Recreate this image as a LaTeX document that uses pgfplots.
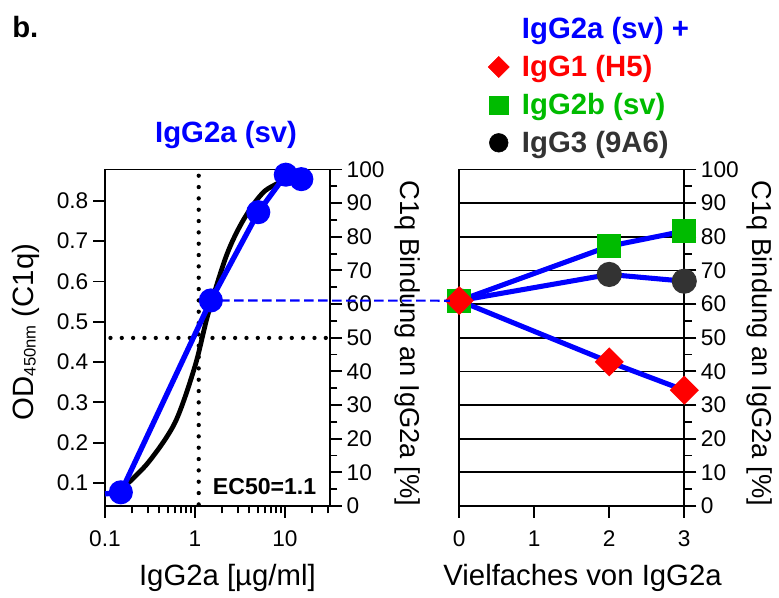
\documentclass[border=0pt]{standalone}
\usepackage{pgfplots}
\pgfplotsset{compat=1.18}
\usepackage{fontspec}
\setmainfont{Liberation Sans}
\setsansfont{Liberation Sans}

\definecolor{ggreen}{RGB}{0,187,0}
\definecolor{gdark}{RGB}{51,51,51}

\pgfplotsset{
  panel/.style={
    scale only axis, width=168.75pt, height=252.4pt,
    axis line style={line width=1.4pt},
    every tick/.style={line width=1.4pt, black},
    major tick length=9pt, minor tick length=5.5pt,
    tick align=outside,
    tick label style={font=\fontsize{17}{20}\selectfont},
    xticklabel style={yshift=-6pt},
    /pgf/number format/assume math mode=true,
    clip=false,
  },
  rlabel/.style={ylabel style={font=\fontsize{20.5}{24}\selectfont,
      at={(axis description cs:#1,0.483)}, anchor=center, rotate=180}},
  dotline/.style={black, line width=3.2pt, line cap=round, dash pattern=on 0pt off 8.5pt},
}

\begin{document}
\begin{tikzpicture}
\useasboundingbox (-78.75pt,-69pt) rectangle (505.5pt,379.5pt);

% left panel: dose response
\begin{axis}[panel,
  at={(0,0)}, anchor=south west,
  xmode=log, xmin=0.1, xmax=31.62,
  ymin=0.043, ymax=0.878,
  xtick={0.1,1,10}, xticklabels={0.1,1,10},
  minor xtick={0.2,0.3,0.4,0.5,0.6,0.7,0.8,0.9,2,3,4,5,6,7,8,9,20,30},
  ytick={0.1,0.2,0.3,0.4,0.5,0.6,0.7,0.8},
  yticklabel style={/pgf/number format/.cd, fixed, fixed zerofill, precision=1},
  xtick pos=bottom, ytick pos=left,
  xlabel={IgG2a [µg/ml]},
  xlabel style={font=\fontsize{22}{26}\selectfont, at={(axis description cs:0.544,0)}, anchor=base, yshift=-59.6pt},
  ylabel={OD{\fontsize{12.5}{14}\selectfont\raisebox{-1.5pt}{450nm}} (C1q)},
  ylabel style={font=\fontsize{22}{26}\selectfont, at={(axis description cs:-0.351,0.517)}, anchor=center},
  title={IgG2a (sv)},
  title style={font=\bfseries\fontsize{22}{26}\selectfont, text=blue, at={(axis description cs:0.538,1)}, anchor=base, yshift=14pt},
]
% EC50 guides
\addplot[dotline] coordinates {(1.1,0.047) (1.1,0.878)};
\addplot[dotline] coordinates {(0.115,0.46) (29,0.46)};
% fitted curve
\addplot[black, line width=3.6pt, smooth] coordinates {
  (0.15,0.083) (0.3,0.150) (0.6,0.250) (1.0,0.390) (1.4,0.520)
  (2.25,0.666) (3.5,0.755) (6,0.825) (12.4,0.860)
};
% measured
\addplot[blue, line width=4pt, mark=*, mark size=7pt, mark indices={2,3,4,5,6}] coordinates {
  (0.1,0.073) (0.15,0.077) (1.5,0.553) (5.05,0.772) (10.2,0.865) (15.2,0.854)
};
\coordinate (conA) at (axis cs:1.5,0.553);
\node[anchor=south east, font=\bfseries\fontsize{17.3}{20}\selectfont, inner sep=0pt]
  at (rel axis cs:0.94,0.033) {EC50=1.1};
\end{axis}

% left panel: percent scale
\begin{axis}[panel,
  at={(0,0)}, anchor=south west,
  xmin=0, xmax=1, ymin=0, ymax=100,
  hide x axis, axis y line*=right,
  ytick={0,10,...,100}, minor ytick={5,15,...,95},
  ylabel={C1q Bindung an IgG2a [\%]}, rlabel=1.343,
]
\end{axis}

% right panel: mixtures
\begin{axis}[panel,
  at={(265.7pt,0)}, anchor=south west,
  xmin=0, xmax=3, ymin=0, ymax=100,
  xtick={0,1,2,3}, ytick={0,10,...,100}, minor ytick={5,15,...,95},
  xtick pos=bottom, ytick pos=right, yticklabel pos=right,
  ymajorgrids, major grid style={black, line width=1.3pt},
  xlabel={Vielfaches von IgG2a},
  xlabel style={font=\fontsize{22}{26}\selectfont, at={(axis description cs:0.548,0)}, anchor=base, yshift=-59.6pt},
  ylabel={C1q Bindung an IgG2a [\%]}, rlabel=1.335,
  legend style={at={(axis description cs:0.106,1.028)}, anchor=south west,
    draw=none, fill=none, font=\bfseries\fontsize{22}{26}\selectfont,
    row sep=7pt, /tikz/every odd column/.append style={column sep=7.5pt}},
  legend cell align=left,
]
\addlegendimage{empty legend}
\addlegendentry{\textcolor{blue}{IgG2a (sv) +}}
\addlegendimage{only marks, red, mark=square*, mark size=5.6pt, mark options={rotate=45}}
\addlegendentry{\textcolor{red}{IgG1 (H5)}}
\addlegendimage{only marks, ggreen, mark=square*, mark size=6.8pt}
\addlegendentry{\textcolor{ggreen}{IgG2b (sv)}}
\addlegendimage{only marks, black, mark=*, mark size=7pt}
\addlegendentry{\textcolor{gdark}{IgG3 (9A6)}}

\addplot[blue, line width=3.8pt, mark=*, mark size=7.5pt, mark options={solid, fill=gdark, draw=gdark}, forget plot]
  coordinates {(0,61) (2,68.8) (3,66.8)};
\addplot[blue, line width=3.8pt, mark=square*, mark size=7.2pt, mark options={solid, fill=ggreen, draw=ggreen}, forget plot]
  coordinates {(0,61) (2,77.2) (3,81.7)};
\addplot[blue, line width=3.8pt, mark=square*, mark size=5.8pt, mark options={solid, rotate=45, fill=red, draw=red}, forget plot]
  coordinates {(0,61) (2,42.8) (3,34.4)};
\coordinate (conB) at (axis cs:0,61);
\end{axis}

% link between the panels
\draw[blue, line width=1.6pt, dash pattern=on 7pt off 3.5pt, shorten <=7pt, shorten >=7pt] (conA) -- (conB);

\node[anchor=base west, font=\bfseries\fontsize{22}{26}\selectfont, inner sep=0pt] at (-69.75pt,351pt) {b.};
\end{tikzpicture}
\end{document}
